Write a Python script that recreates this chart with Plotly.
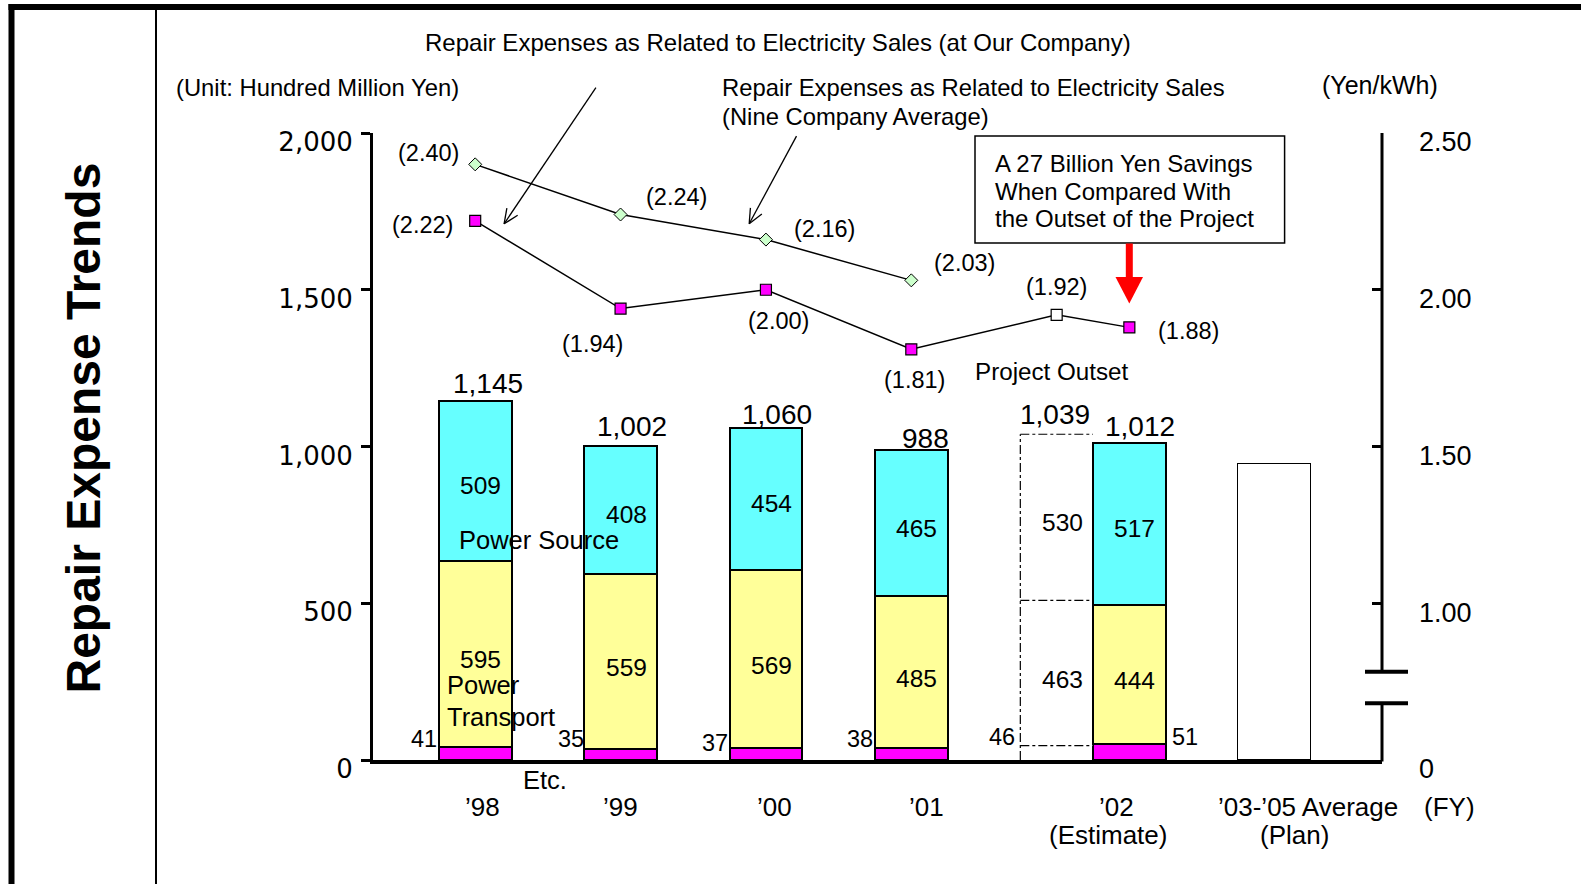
import math
import plotly.graph_objects as go

# ---------------- data ----------------
fy_labels_line1 = ["’98", "’99", "’00", "’01", "’02", "’03-’05 Average", "(FY)"]
fy_labels_line2 = ["", "", "", "", "(Estimate)", "(Plan)", ""]
bar_groups = ["’98", "’99", "’00", "’01", "’02 Project Outset", "’02 (Estimate)"]
etc_vals = [41, 35, 37, 38, 46, 51]
transport_vals = [595, 559, 569, 485, 463, 444]
source_vals = [509, 408, 454, 465, 530, 517]
plan_label = ["’03-’05 Average (Plan)"]
plan_vals = [945]
our_company_ratio = [2.22, 1.94, 2.00, 1.81, 1.92, 1.88]
nine_company_ratio = [2.40, 2.24, 2.16, 2.03]
left_tick_vals = [0, 500, 1000, 1500, 2000]
right_tick_vals = [0.5, 1.00, 1.50, 2.00, 2.50]      # broken axis: bottom shows "0"
right_tick_text = ["0", "1.00", "1.50", "2.00", "2.50"]

# ---------------- layout helpers ----------------
W, H = 1581, 884
L, R, T, B = 373, 199, 133, 124
PW, PH = W - L - R, H - T - B
FONT = "Liberation Sans, Arial, sans-serif"

bar_x = [0, 1, 2, 3, 4, 4.5]
plan_x = [5.5]
nine_x = bar_x[:4]
OUTSET = 4
BAR_W = 0.5


def px(x):
    return (x - L) / PW


def py(y):
    return (H - B - y) / PH


fig = go.Figure()


def seg_trace(vals, color):
    return go.Bar(
        x=bar_x, y=vals, width=BAR_W,
        marker=dict(
            color=["white" if i == OUTSET else color for i in range(len(vals))],
            line=dict(color="black", width=[0 if i == OUTSET else 2 for i in range(len(vals))]),
        ),
        hoverinfo="skip", showlegend=False, yaxis="y",
    )


fig.add_trace(seg_trace(etc_vals, "#ff00ff"))
fig.add_trace(seg_trace(transport_vals, "#ffff99"))
fig.add_trace(seg_trace(source_vals, "#66ffff"))
fig.add_trace(go.Bar(x=plan_x, y=plan_vals, width=BAR_W,
                     marker=dict(color="white", line=dict(color="black", width=1.5)),
                     hoverinfo="skip", showlegend=False))

fig.add_trace(go.Scatter(
    x=nine_x, y=nine_company_ratio, yaxis="y2", mode="lines+markers",
    line=dict(color="black", width=1.5),
    marker=dict(symbol="diamond", size=10, color="#ccffcc", line=dict(color="black", width=1)),
    hoverinfo="skip", showlegend=False))
fig.add_trace(go.Scatter(
    x=bar_x, y=our_company_ratio, yaxis="y2", mode="lines+markers",
    line=dict(color="black", width=1.5),
    marker=dict(symbol="square", size=11,
                color=["white" if i == OUTSET else "#ff00ff" for i in range(len(our_company_ratio))],
                line=dict(color="black", width=1.2)),
    hoverinfo="skip", showlegend=False))

ann = []


def text(x, y, t, size, xanchor="center", yanchor="middle", family=FONT, **kw):
    d = dict(x=x, y=y, text=t, showarrow=False, xanchor=xanchor, yanchor=yanchor,
             font=dict(size=size, family=family, color="black"))
    d.update(kw)
    ann.append(d)


def ptext(xp, yp, t, size, xanchor="center", **kw):
    text(px(xp), py(yp), t, size, xanchor=xanchor, xref="paper", yref="paper", **kw)


# ratio labels
our_off = [(-52.5, 4), (-27.6, 35), (12.4, 31.6), (3, 30.6), (0, -27.6), (59, 4)]
nine_off = [(-46.5, -11), (56, -18), (59, -11), (53.5, -17.4)]
for xv, v, (dx, dy) in zip(bar_x, our_company_ratio, our_off):
    text(xv, v, f"({v:.2f})", 23.5, xref="x", yref="y2", xshift=dx, yshift=-dy)
for xv, v, (dx, dy) in zip(nine_x, nine_company_ratio, nine_off):
    text(xv, v, f"({v:.2f})", 23.5, xref="x", yref="y2", xshift=dx, yshift=-dy)

# totals
tot_off = [(12.5, -18), (11, -19.5), (11.4, -13.4), (14, -12), (-2, -20), (10.6, -16)]
for i, xv in enumerate(bar_x):
    tot = etc_vals[i] + transport_vals[i] + source_vals[i]
    dx, dy = tot_off[i]
    text(xv, tot, f"{tot:,}", 28, xref="x", yref="y", xshift=dx, yshift=-dy)

# segment labels
for i, xv in enumerate(bar_x):
    e, t_, s = etc_vals[i], transport_vals[i], source_vals[i]
    text(xv, e + t_ / 2, str(t_), 24.5, xref="x", yref="y", xshift=5.5, yshift=-6)
    text(xv, e + t_ + s / 2, str(s), 24.5, xref="x", yref="y", xshift=5.5, yshift=-5)

etc_off = [(-51.5, -8), (-49.8, -10), (-51, -5.4), (-51.5, -9), (-55, -8.6), (56, -7)]
for i, xv in enumerate(bar_x):
    dx, dy = etc_off[i]
    text(xv, etc_vals[i], str(etc_vals[i]), 23.5, xref="x", yref="y", xshift=dx, yshift=-dy)

# category names
ptext(539, 540.4, "Power Source", 25.5)
ptext(444.7, 684.6, "Power", 25.5, xanchor="left")
ptext(444.7, 716.9, "Transport", 25.5, xanchor="left")
ptext(545.4, 780.4, "Etc.", 25.5)

# x labels
l1x = [482.5, 620, 774.9, 926.6, 1116.7, 1307.8, 1449]
l2x = [None, None, None, None, 1107.6, 1294.1, None]
for t1, t2, x1, x2 in zip(fy_labels_line1, fy_labels_line2, l1x, l2x):
    ptext(x1, 806.6, t1, 26)
    if t2:
        ptext(x2, 834.9, t2, 26)

# top texts
ptext(777.9, 42.3, "Repair Expenses as Related to Electricity Sales (at Our Company)", 24)
ptext(174.4, 87.7, "(Unit: Hundred Million Yen)", 23.8, xanchor="left")
ptext(719.9, 87.7, "Repair Expenses as Related to Electricity Sales", 23.8, xanchor="left")
ptext(719.9, 117, "(Nine Company Average)", 23.8, xanchor="left")
ptext(1380.4, 84.7, "(Yen/kWh)", 25)
ptext(973, 371, "Project Outset", 24.2, xanchor="left")
for yy, t in zip([163.3, 191.6, 218.8],
                 ["A 27 Billion Yen Savings", "When Compared With", "the Outset of the Project"]):
    ptext(993.1, yy, t, 24, xanchor="left")

# vertical title
ptext(83, 428.5, "<b>Repair Expense Trends</b>", 48, textangle=-90,
      family="Liberation Sans, Arial, sans-serif")

# ---------------- shapes ----------------
shapes = []


def pline(x0, y0, x1, y1, width, color="black", dash="solid"):
    shapes.append(dict(type="line", xref="paper", yref="paper",
                       x0=px(x0), y0=py(y0), x1=px(x1), y1=py(y1),
                       line=dict(color=color, width=width, dash=dash)))


# outer frame
pline(8.5, 7, 1600, 7, 6)
pline(11.5, 4, 11.5, 900, 6)
pline(156, 7, 156, 900, 2)

# broken right axis
RX = L + PW
pline(RX, T, RX, 671.7, 3)
pline(RX, 703.3, RX, H - B + 1.5, 3)
pline(1365, 671.7, 1408, 671.7, 4)
pline(1365, 703.3, 1408, 703.3, 4)


# thin arrows
def arrow(tail, tip, barb=16, ang=24):
    tx, ty = tail
    hx, hy = tip
    dx, dy = tx - hx, ty - hy
    ln = math.hypot(dx, dy)
    ux, uy = dx / ln, dy / ln
    pline(tx, ty, hx, hy, 1.3)
    for s in (1, -1):
        a = math.radians(ang * s)
        bx = ux * math.cos(a) - uy * math.sin(a)
        by = ux * math.sin(a) + uy * math.cos(a)
        pline(hx, hy, hx + barb * bx, hy + barb * by, 1.3)


arrow((595.9, 87.7), (504.1, 223.8))
arrow((796.5, 136.1), (749.2, 223.8))

# savings box
shapes.append(dict(type="rect", xref="paper", yref="paper",
                   x0=px(975), y0=py(136.1), x1=px(1284.6), y1=py(243),
                   line=dict(color="black", width=1.5), fillcolor="rgba(0,0,0,0)"))
# red arrow
pline(1129.3, 243.5, 1129.3, 279, 7, color="#ff0000")
shapes.append(dict(type="path", xref="paper", yref="paper",
                   path=f"M {px(1115.5)},{py(277)} L {px(1143)},{py(277)} L {px(1129.3)},{py(303.5)} Z",
                   fillcolor="#ff0000", line=dict(color="#ff0000", width=0)))

# dashed outline of the project-outset bar
xo = bar_x[OUTSET]
c1 = etc_vals[OUTSET]
c2 = c1 + transport_vals[OUTSET]
c3 = c2 + source_vals[OUTSET]
for (x0, y0, x1, y1) in [(xo - BAR_W / 2, 0, xo - BAR_W / 2, c3),
                         (xo - BAR_W / 2, c3, xo + BAR_W / 2, c3),
                         (xo - BAR_W / 2, c2, xo + BAR_W / 2, c2),
                         (xo - BAR_W / 2, c1, xo + BAR_W / 2, c1)]:
    shapes.append(dict(type="line", xref="x", yref="y", x0=x0, y0=y0, x1=x1, y1=y1,
                       line=dict(color="black", width=1.2, dash="dashdot")))

fig.update_layout(
    width=W, height=H,
    margin=dict(l=L, r=R, t=T, b=B, autoexpand=False),
    paper_bgcolor="white", plot_bgcolor="white",
    barmode="stack", bargap=0,
    showlegend=False,
    xaxis=dict(range=[-0.703, 6.238], showline=True, linewidth=3.5, linecolor="black",
               showticklabels=False, ticks="", showgrid=False, zeroline=False, fixedrange=True),
    yaxis=dict(range=[0, 2000], tickvals=left_tick_vals, tickformat=",d",
               ticks="outside", ticklen=9, tickwidth=3, tickcolor="black",
               showline=True, linewidth=3, linecolor="black", showgrid=False, zeroline=False,
               tickfont=dict(family="DejaVu Sans, sans-serif", size=26, color="black"),
               ticklabelshift=9, ticklabelstandoff=3),
    yaxis2=dict(range=[0.5, 2.5], overlaying="y", side="right",
                tickvals=right_tick_vals, ticktext=right_tick_text,
                ticks="inside", ticklen=10, tickwidth=3, tickcolor="black",
                showline=False, showgrid=False, zeroline=False,
                tickfont=dict(family=FONT, size=27, color="black"),
                ticklabelshift=9, ticklabelstandoff=36),
    annotations=ann,
    shapes=shapes,
)

fig.write_html("out.html")
